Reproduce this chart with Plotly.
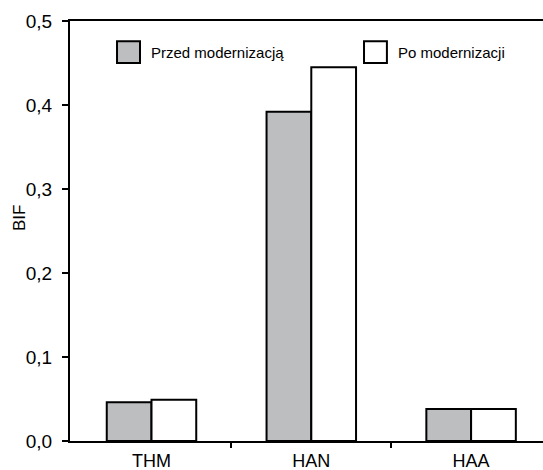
import plotly.graph_objects as go

categories = ["THM", "HAN", "HAA"]
przed = [0.046, 0.392, 0.038]
po = [0.049, 0.445, 0.038]
series_names = ["Przed modernizacją", "Po modernizacji"]
y_ticks = [0.0, 0.1, 0.2, 0.3, 0.4, 0.5]

FONT = "Liberation Sans, Arial, sans-serif"
pos = list(range(len(categories)))
boundaries = [p + 0.5 for p in pos[:-1]]

fig = go.Figure()
fig.add_trace(go.Bar(x=pos, y=przed, name=series_names[0],
                     marker=dict(color="#bcbec0", line=dict(color="black", width=2)),
                     showlegend=False))
fig.add_trace(go.Bar(x=pos, y=po, name=series_names[1],
                     marker=dict(color="white", line=dict(color="black", width=2)),
                     showlegend=False))
# invisible helper trace for the boundary-tick axis
fig.add_trace(go.Scatter(x=boundaries, y=[0, 0], xaxis="x2", mode="markers",
                         marker=dict(opacity=0), hoverinfo="skip", showlegend=False))

fig.update_layout(
    width=543, height=470,
    margin=dict(l=70, r=0, t=21, b=29, autoexpand=False),
    paper_bgcolor="white", plot_bgcolor="white",
    barmode="group", bargap=0.44, bargroupgap=0,
    separators=", ",
    font=dict(family=FONT, size=15, color="black"),
    xaxis=dict(
        range=[-0.51, 2.45], showline=True, linecolor="black", linewidth=2, mirror=True,
        tickvals=pos, ticktext=categories, ticks="", showgrid=False, zeroline=False,
        tickfont=dict(size=18), automargin=False, ticklabelstandoff=2,
    ),
    xaxis2=dict(
        overlaying="x", matches="x", side="bottom", tickvals=boundaries,
        ticks="outside", ticklen=6, tickwidth=2, tickcolor="black",
        showticklabels=False, showgrid=False, zeroline=False, showline=False,
        automargin=False,
    ),
    yaxis=dict(
        range=[0, 0.5], tickvals=y_ticks, tickformat=".1f",
        showline=True, linecolor="black", linewidth=2,
        ticks="outside", ticklen=6, tickwidth=2, tickcolor="black",
        showgrid=False, zeroline=False, tickfont=dict(size=19), automargin=False,
        ticklabelstandoff=6,
    ),
)

# y axis title
fig.add_annotation(text="BIF", xref="paper", yref="paper", x=-50 / 473, y=0.531,
                   textangle=-90, showarrow=False, xanchor="center", yanchor="middle",
                   font=dict(size=17))

# legend drawn as boxes + labels
legend_items = [(series_names[0], "#bcbec0", 0.0994, 0.148, 0.171),
                (series_names[1], "white", 0.6216, 0.670, 0.6934)]
for name, color, bx0, bx1, tx in legend_items:
    fig.add_shape(type="rect", xref="paper", yref="paper",
                  x0=bx0, x1=bx1, y0=0.90, y1=0.952,
                  fillcolor=color, line=dict(color="black", width=2))
    fig.add_annotation(text=name, xref="paper", yref="paper",
                       x=tx, y=0.926, xanchor="left", yanchor="middle",
                       showarrow=False, font=dict(size=15), xshift=-2)

fig.write_html("out.html", config={"displayModeBar": False},
               post_script="document.body.style.margin='0';document.body.style.overflow='hidden';")
